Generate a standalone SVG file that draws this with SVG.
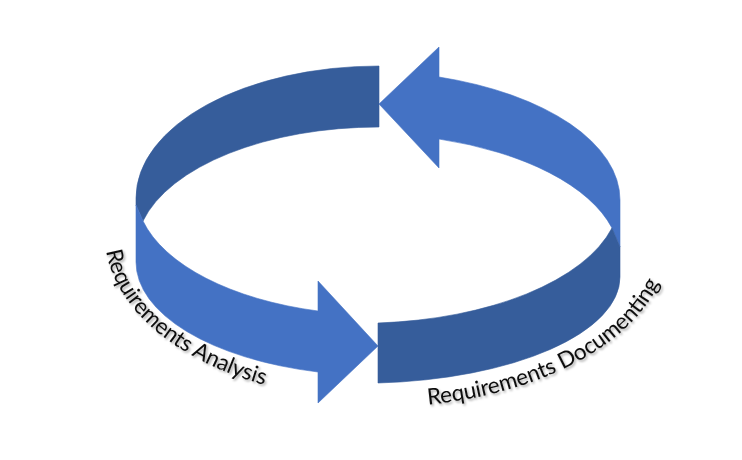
<svg xmlns="http://www.w3.org/2000/svg" width="742" height="460" viewBox="0 0 742 460">
  <defs>
    <style>
      .light { fill: #4472C4; stroke: #4472C4; stroke-width: 0.6; stroke-linejoin: miter; }
      .dark { fill: #365D9B; stroke: #365D9B; stroke-width: 0.6; stroke-linejoin: miter; }
      .label { font-family: Lato, "Open Sans", "Liberation Sans", sans-serif; font-size: 22.5px; fill: #111111; filter: url(#shadow); }
    </style>
    <filter id="shadow" x="-10%" y="-10%" width="130%" height="130%">
      <feDropShadow dx="1.5" dy="1.8" stdDeviation="1" flood-color="#000000" flood-opacity="0.35"/>
    </filter>
    <path id="pathA" d="M 105,235 A 274,165 0 0 0 379,400"/>
    <path id="pathB" d="M 379,407 A 290,167 0 0 0 669,240"/>
  </defs>
  <rect width="742" height="460" fill="#ffffff"/>

  <g id="connectors">
    <path id="analysis-back" class="dark" d="M 379,66 A 243,132 0 0 0 136,198 L 136,205 L 143,221 A 243,123.4 0 0 1 379,127 Z"/>
    <path id="documenting-back" class="light" d="M 379,104 L 439,47 L 439,77 A 260,129 0 0 1 620,200 L 620,247 L 612,228 A 260,125.9 0 0 0 439,139 L 439,168 Z"/>
    <path id="analysis-front" class="light" d="M 136,205 L 136,262 A 243,113.6 0 0 0 318,372 L 318,403 L 378,346 L 318,281 L 318,311 A 243,123.3 0 0 1 143,221 Z"/>
    <path id="documenting-front" class="dark" d="M 378,323 L 378,383 A 260,106.3 0 0 0 620,277 L 620,247 L 612,228 A 260,126.4 0 0 1 378,323 Z"/>
  </g>

  <g id="node-analysis">
    <text class="label"><textPath href="#pathA" startOffset="16" textLength="218" lengthAdjust="spacing">Requirements Analysis</textPath></text>
  </g>
  <g id="node-documenting">
    <text class="label"><textPath href="#pathB" startOffset="49" textLength="272" lengthAdjust="spacing">Requirements Documenting</textPath></text>
  </g>
</svg>
